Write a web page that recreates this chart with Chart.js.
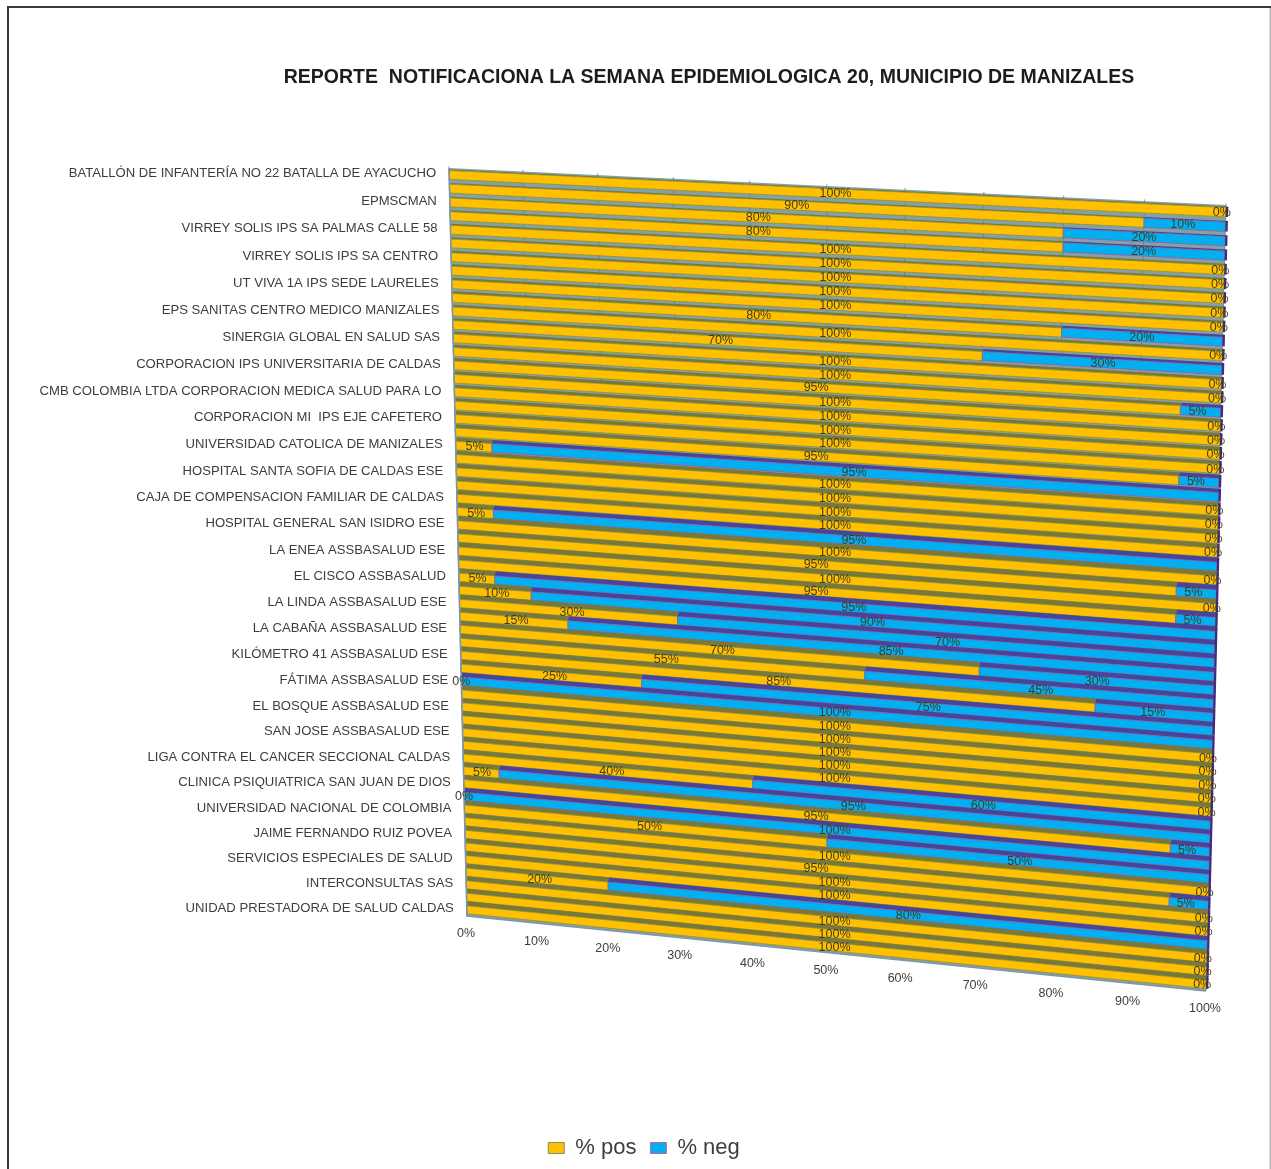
<!DOCTYPE html>
<html>
<head>
<meta charset="utf-8">
<style>
html,body{margin:0;padding:0;background:#fff}
canvas{display:block}
</style>
<script src="https://cdn.jsdelivr.net/npm/chart.js@4/dist/chart.umd.min.js"></script>
</head>
<body>
<canvas id="c" width="1271" height="1169"></canvas>
<script>
// Only every other row carries a printed name on the axis.
const categories = [
  'BATALLÓN DE INFANTERÍA NO 22 BATALLA DE AYACUCHO','',
  'EPMSCMAN','',
  'VIRREY SOLIS IPS SA PALMAS CALLE 58','',
  'VIRREY SOLIS IPS SA CENTRO','',
  'UT VIVA 1A IPS SEDE LAURELES','',
  'EPS SANITAS CENTRO MEDICO MANIZALES','',
  'SINERGIA GLOBAL EN SALUD SAS','',
  'CORPORACION IPS UNIVERSITARIA DE CALDAS','',
  'CMB COLOMBIA LTDA CORPORACION MEDICA SALUD PARA LO','',
  'CORPORACION MI  IPS EJE CAFETERO','',
  'UNIVERSIDAD CATOLICA DE MANIZALES','',
  'HOSPITAL SANTA SOFIA DE CALDAS ESE','',
  'CAJA DE COMPENSACION FAMILIAR DE CALDAS','',
  'HOSPITAL GENERAL SAN ISIDRO ESE','',
  'LA ENEA ASSBASALUD ESE','',
  'EL CISCO ASSBASALUD','',
  'LA LINDA ASSBASALUD ESE','',
  'LA CABAÑA ASSBASALUD ESE','',
  'KILÓMETRO 41 ASSBASALUD ESE','',
  'FÁTIMA ASSBASALUD ESE','',
  'EL BOSQUE ASSBASALUD ESE','',
  'SAN JOSE ASSBASALUD ESE','',
  'LIGA CONTRA EL CANCER SECCIONAL CALDAS','',
  'CLINICA PSIQUIATRICA SAN JUAN DE DIOS','',
  'UNIVERSIDAD NACIONAL DE COLOMBIA','',
  'JAIME FERNANDO RUIZ POVEA','',
  'SERVICIOS ESPECIALES DE SALUD','',
  'INTERCONSULTAS SAS','',
  'UNIDAD PRESTADORA DE SALUD CALDAS'
];
const pctPos = [100,90,80,80,100,100,100,100,100,80,100,70,100,100,95,100,100,100,100,95,5,
  100,100,100,100,5,100,95,100,95,5,10,30,15,70,55,85,25,0,100,100,100,100,100,40,5,95,0,50,
  100,95,100,100,20,100,100,100];
const pctNeg = [0,10,20,20,0,0,0,0,0,20,0,30,0,0,5,0,0,0,0,5,95,
  0,0,0,0,95,0,5,0,5,95,90,70,85,30,45,15,75,100,0,0,0,0,0,60,95,5,100,50,
  0,5,0,0,80,0,0,0];
const seriesNames = ['% pos','% neg'];
const chartTitle = 'REPORTE  NOTIFICACIONA LA SEMANA EPIDEMIOLOGICA 20, MUNICIPIO DE MANIZALES';

// Corners of the receding plot floor: top-left, top-right, bottom-right, bottom-left.
const QUAD = [[449,168],[1226,205],[1206,991],[467,916]];
const C = {
  yellow:'#FFC000', yellowEdge:'#8c8a30', yellowTop:'#78783a',
  blue:'#00B0F0', blueEdge:'#a0509a', blueTop:'#46459b',
  wall:'#84a2a6', grid:'#62828a', cap:'#43287c', text:'#3d3d3d', value:'#403c20'
};
const FONT = '"Liberation Sans", Arial, sans-serif';

// Projective map from the unit square onto QUAD.
const H = (() => {
  const [p0,p1,p2,p3] = QUAD;
  const dx1=p1[0]-p2[0], dx2=p3[0]-p2[0], sx=p0[0]-p1[0]+p2[0]-p3[0];
  const dy1=p1[1]-p2[1], dy2=p3[1]-p2[1], sy=p0[1]-p1[1]+p2[1]-p3[1];
  const den=dx1*dy2-dx2*dy1;
  const g=(sx*dy2-dx2*sy)/den, h=(dx1*sy-sx*dy1)/den;
  return {a:p1[0]-p0[0]+g*p1[0], b:p3[0]-p0[0]+h*p3[0], c:p0[0],
          d:p1[1]-p0[1]+g*p1[1], e:p3[1]-p0[1]+h*p3[1], f:p0[1], g, h};
})();
function project(chart,px,py){
  const ca=chart.chartArea;
  const u=(px-ca.left)/(ca.right-ca.left), v=(py-ca.top)/(ca.bottom-ca.top);
  const w=H.g*u+H.h*v+1;
  return [(H.a*u+H.b*v+H.c)/w,(H.d*u+H.e*v+H.f)/w];
}
// Value labels run straight along their row, without foreshortening.
function labelPoint(chart,px,py){
  const ca=chart.chartArea;
  const u=(px-ca.left)/(ca.right-ca.left);
  const a=project(chart,ca.left,py), b=project(chart,ca.right,py);
  return [a[0]+u*(b[0]-a[0]-4), a[1]+u*(b[1]-a[1])];
}
function quad(ctx,chart,x0,y0,x1,y1,shift,fill,stroke,lw){
  const s=shift||0;
  const pts=[[x0+s,y0],[x1+s,y0],[x1,y1],[x0,y1]].map(p=>project(chart,p[0],p[1]));
  ctx.beginPath();
  pts.forEach((p,i)=>i?ctx.lineTo(p[0],p[1]):ctx.moveTo(p[0],p[1]));
  ctx.closePath();
  if(fill){ctx.fillStyle=fill;ctx.fill();}
  if(stroke){ctx.strokeStyle=stroke;ctx.lineWidth=lw||1;ctx.stroke();}
}

const perspectivePlugin = {
  id:'perspective',
  afterLayout(chart){
    // The heading and the legend sit off the canvas centre.
    const t=chart.titleBlock; t.left=0; t.right=2*709;
    const l=chart.legend; l.left=0; l.right=2*644;
  },
  beforeDraw(chart){
    const {ctx,width,height}=chart;
    ctx.save();
    ctx.fillStyle='#fff';ctx.fillRect(0,0,width,height);
    ctx.strokeStyle='#a6a6a6';ctx.lineWidth=1.2;
    ctx.beginPath();ctx.moveTo(width-0.8,7);ctx.lineTo(width-0.8,height);ctx.stroke();
    ctx.strokeStyle='#3a3a3a';ctx.lineWidth=2;
    ctx.beginPath();ctx.moveTo(8,height);ctx.lineTo(8,7);ctx.lineTo(width,7);ctx.stroke();
    ctx.restore();
  },
  beforeDatasetsDraw(chart){
    const {ctx,chartArea:ca,scales:{x:sx,y:sy}}=chart;
    const metaPos=chart.getDatasetMeta(0).data, metaNeg=chart.getDatasetMeta(1).data;
    const pitch=(ca.bottom-ca.top)/categories.length;
    ctx.save();
    // back wall and vertical grid
    quad(ctx,chart,ca.left,ca.top,ca.right,ca.bottom,0,C.wall);
    sx.ticks.forEach(t=>{
      const px=sx.getPixelForValue(t.value);
      const a=project(chart,px,ca.top-2), b=project(chart,px,ca.bottom);
      ctx.strokeStyle=C.grid;ctx.lineWidth=0.8;
      ctx.beginPath();ctx.moveTo(a[0],a[1]);ctx.lineTo(b[0],b[1]);ctx.stroke();
    });
    // rows, far to near
    metaPos.forEach((pos,i)=>{
      const neg=metaNeg[i];
      const top=pos.y-pos.height/2, bot=pos.y+pos.height/2;
      const v=(pos.y-ca.top)/(ca.bottom-ca.top);
      const depth=Math.min(pitch-pos.height,pitch*(0.07+0.6*v));
      const faces=[[pos,C.yellowTop,C.yellow,C.yellowEdge],[neg,C.blueTop,C.blue,C.blueEdge]];
      faces.forEach(([el,topCol,frontCol,edge])=>{
        if(Math.abs(el.x-el.base)<0.01) return;
        quad(ctx,chart,el.base,top-depth,el.x,top,1.2,topCol);
        quad(ctx,chart,el.base,top,el.x,bot,0,frontCol,edge,0.7);
      });
      // closing end of the stack
      quad(ctx,chart,sx.getPixelForValue(100),top-depth,sx.getPixelForValue(100)+2.2,bot,0,C.cap);
    });
    // floor edges
    ctx.strokeStyle='#7f96a8';ctx.lineWidth=1.6;
    let a=project(chart,ca.left,ca.top), b=project(chart,ca.left,ca.bottom), d=project(chart,ca.right,ca.bottom);
    ctx.beginPath();ctx.moveTo(a[0],a[1]);ctx.lineTo(b[0],b[1]);ctx.lineTo(d[0],d[1]);ctx.stroke();

    // value labels centred on each segment
    ctx.font='12.5px '+FONT;
    ctx.textAlign='center';ctx.textBaseline='middle';ctx.fillStyle=C.value;
    metaPos.forEach((pos,i)=>{
      [[pos,pctPos[i]],[metaNeg[i],pctNeg[i]]].forEach(([el,val])=>{
        const p=labelPoint(chart,(el.x+el.base)/2,el.y);
        ctx.fillText(val+'%',p[0],p[1]);
      });
    });

    // category names beside the left edge
    ctx.font='13.1px '+FONT;
    ctx.fillStyle=C.text;ctx.textAlign='right';
    categories.forEach((name,i)=>{
      if(!name) return;
      const p=project(chart,ca.left,sy.getPixelForValue(i));
      ctx.fillText(name,p[0]-13,p[1]-1);
    });

    // percentage ticks under the near edge
    ctx.font='12.5px '+FONT;
    ctx.textAlign='center';
    sx.ticks.forEach(t=>{
      const p=project(chart,sx.getPixelForValue(t.value),ca.bottom);
      ctx.fillText(t.label,p[0]-1,p[1]+18);
    });
    ctx.restore();
    return false;
  }
};

new Chart(document.getElementById('c'),{
  type:'bar',
  data:{
    labels:categories,
    datasets:[
      {label:seriesNames[0],data:pctPos,backgroundColor:C.yellow,borderColor:'#8a8a5a',borderWidth:1,stack:'s'},
      {label:seriesNames[1],data:pctNeg,backgroundColor:C.blue,borderColor:'#c060a8',borderWidth:1,stack:'s'}
    ]
  },
  options:{
    indexAxis:'y',
    responsive:false,
    animation:false,
    layout:{padding:{left:449,right:45,top:0,bottom:0}},
    datasets:{bar:{barPercentage:0.64,categoryPercentage:1}},
    scales:{
      x:{display:false,stacked:true,min:0,max:100,ticks:{stepSize:10,callback:v=>v+'%'}},
      y:{display:false,stacked:true,ticks:{autoSkip:false}}
    },
    plugins:{
      title:{display:true,text:chartTitle,color:'#1c1c1c',
        font:{family:FONT,size:19.5,weight:'bold'},
        padding:{top:66,bottom:60}},
      legend:{position:'bottom',fullSize:true,
        labels:{boxWidth:16,boxHeight:11,padding:14,color:'#3d3d3d',
          font:{family:FONT,size:22}}},
      tooltip:{enabled:false}
    }
  },
  plugins:[perspectivePlugin]
});
</script>
</body>
</html>
